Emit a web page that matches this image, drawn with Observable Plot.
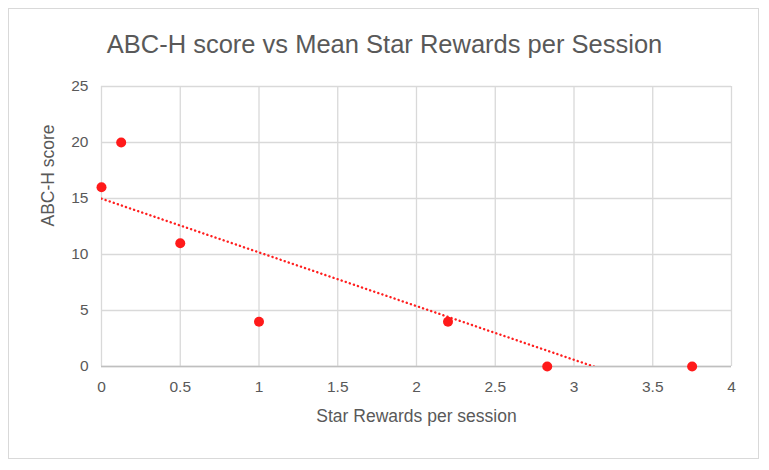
<!DOCTYPE html>
<html>
<head>
<meta charset="utf-8">
<script src="https://cdn.jsdelivr.net/npm/d3@7"></script>
<script src="https://cdn.jsdelivr.net/npm/@observablehq/plot@0.6"></script>
<style>
  html, body { margin: 0; padding: 0; background: #fff; }
  #wrap { position: relative; width: 769px; height: 470px; overflow: hidden; font-family: "Liberation Sans", Arial, sans-serif; }
  #border { position: absolute; left: 8px; top: 8px; width: 751px; height: 451px; border: 1px solid #d9d9d9; box-sizing: border-box; }
  #title { position: absolute; left: 0; width: 769px; top: 30px; text-align: center; font-size: 25.5px; color: #595959; }
  #chart { position: absolute; left: 0; top: 60px; }
</style>
</head>
<body>
<div id="wrap">
  <div id="border"></div>
  <div id="title">ABC-H score vs Mean Star Rewards per Session</div>
  <div id="chart"></div>
</div>
<script>
const starRewards = [0, 0.125, 0.5, 1, 2.2, 2.83, 3.75];
const abcScores   = [16, 20, 11, 4, 4, 0, 0];
const xTicks = [0, 0.5, 1, 1.5, 2, 2.5, 3, 3.5, 4];
const yTicks = [0, 5, 10, 15, 20, 25];
const xLabel = "Star Rewards per session";
const yLabel = "ABC-H score";

const data = starRewards.map((x, i) => ({x, y: abcScores[i]}));

const plot = Plot.plot({
  width: 769,
  height: 410,
  marginLeft: 101,
  marginRight: 38,
  marginTop: 26,
  marginBottom: 104,
  style: {fontFamily: "Liberation Sans, Arial, sans-serif", fontSize: "15px", color: "#595959", background: "transparent", overflow: "visible"},
  x: {domain: [0, 4], label: null},
  y: {domain: [0, 25], label: null},
  marks: [
    Plot.gridX(xTicks, {stroke: "#d9d9d9", strokeOpacity: 1, strokeWidth: 1.3}),
    Plot.gridY(yTicks, {stroke: "#d9d9d9", strokeOpacity: 1, strokeWidth: 1.3}),
    Plot.ruleY([0], {stroke: "#bfbfbf", strokeWidth: 1.5}),
    Plot.axisX({ticks: xTicks, tickFormat: d => String(d), tickSize: 0, tickPadding: 14, fill: "#595959", fontSize: 15.5, label: null}),
    Plot.axisY({ticks: yTicks, tickFormat: d => String(d), tickSize: 0, tickPadding: 13, fill: "#595959", fontSize: 15.5, label: null}),
    Plot.linearRegressionY(data, {x: "x", y: "y", ci: 0, stroke: "#ff1f1f", strokeWidth: 2.4, strokeDasharray: "0.1,4.2", strokeLinecap: "round", clip: true}),
    Plot.dot(data, {x: "x", y: "y", r: 5, fill: "#ff1a1a", stroke: "none"}),
    Plot.text([xLabel], {frameAnchor: "bottom", dy: 55, text: d => d, fontSize: 17.5, fill: "#595959"}),
    Plot.text([yLabel], {frameAnchor: "left", dx: -53, rotate: -90, text: d => d, fontSize: 17.5, fill: "#595959"})
  ]
});
document.getElementById("chart").appendChild(plot);
</script>
</body>
</html>
